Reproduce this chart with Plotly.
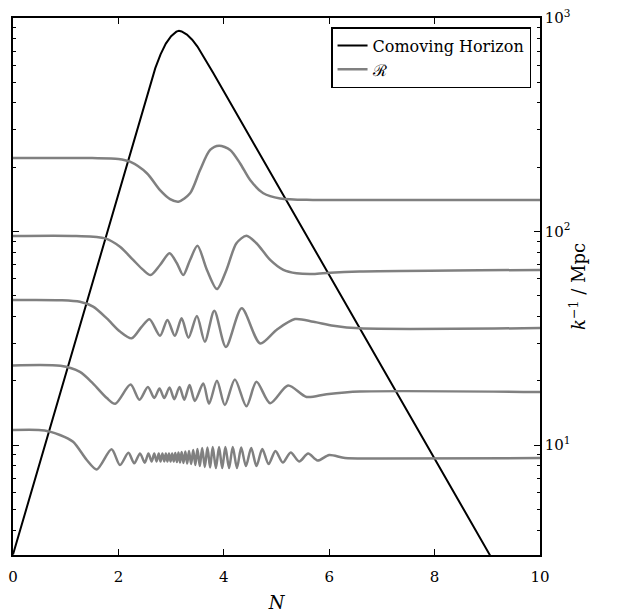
import plotly.graph_objects as go

# e-folds N and comoving horizon (Mpc)
horizon_N = [0, 2.6, 2.7, 2.8, 2.9, 3.0, 3.1, 3.15, 3.2, 3.3, 3.4, 3.5, 3.6, 3.7, 3.8, 9.05, 10]
horizon_k = [3.07, 483, 582, 676, 759, 822, 863, 872, 865, 836, 791, 735, 670, 610, 553, 3.05, 1.19]

# curvature perturbation R for five modes, drawn at the scale of each mode (Mpc)
r1_N = [0, 1.5, 2.0, 2.22, 2.54, 2.79, 2.98, 3.14, 3.36, 3.55, 3.74, 3.91, 4.12, 4.31,
        4.50, 4.75, 5.07, 5.69, 7.0, 10]
r1_k = [220.8, 220.8, 218.8, 212.3, 187.5, 156.3, 141.9, 138.0, 151.0, 194.1, 241.0, 252.4,
        241.0, 208.4, 174.2, 151.0, 142.9, 140.6, 140.6, 140.6]

r2_N = [0, 1.2, 1.75, 2.03, 2.28, 2.47, 2.61, 2.79, 2.97, 3.11, 3.23, 3.36, 3.50, 3.68, 3.87,
        4.05, 4.24, 4.43, 4.62, 4.88, 5.13, 5.38, 5.70, 6.02, 6.58, 10]
r2_k = [95.3, 95.3, 92.9, 84.9, 73.6, 66.1, 62.5, 69.7, 79.1, 71.0, 62.5, 73.6, 85.7, 66.1, 53.8,
        66.1, 88.1, 95.5, 88.1, 73.6, 66.1, 63.7, 63.2, 64.1, 64.9, 66.1]

r3_N = [0, 0.9, 1.27, 1.52, 1.78, 2.03, 2.25, 2.44, 2.59, 2.79, 2.93, 3.07, 3.20, 3.33, 3.49,
        3.64, 3.82, 4.04, 4.34, 4.69, 5.00, 5.35, 5.70, 6.08, 6.58, 10]
r3_k = [47.8, 47.7, 46.9, 44.5, 39.2, 34.0, 31.6, 35.8, 38.8, 32.5, 38.5, 32.5, 39.2, 31.8, 40.2,
        30.5, 42.6, 28.8, 43.7, 29.9, 34.6, 38.9, 37.8, 36.2, 35.2, 35.3]

r4_N = [0, 0.9, 1.27, 1.52, 1.78, 1.94, 2.23, 2.40, 2.56, 2.68, 2.78, 2.87, 2.97, 3.06, 3.16,
        3.25, 3.35, 3.45, 3.61, 3.72, 3.87, 4.02, 4.21, 4.43, 4.62, 4.88, 5.22, 5.57, 5.95,
        6.58, 10]
r4_k = [23.6, 23.5, 22.0, 19.4, 16.6, 15.6, 19.2, 16.3, 18.7, 16.6, 18.4, 16.6, 18.6, 16.4, 18.7,
        16.3, 19.1, 16.1, 19.4, 15.6, 20.0, 15.4, 20.3, 15.2, 19.8, 15.7, 19.0, 16.8, 17.3,
        17.8, 17.7]

r5_N = [0, 0.6, 0.89, 1.14, 1.40, 1.59, 1.87, 2.03, 2.19, 2.30, 2.41, 2.50,
        2.57, 2.63, 2.68, 2.725, 2.765, 2.80, 2.835, 2.87, 2.90, 2.93, 2.96, 2.99, 3.02, 3.05,
        3.08, 3.11, 3.14, 3.17, 3.20, 3.235, 3.27, 3.305, 3.34, 3.38, 3.42, 3.46, 3.50, 3.545,
        3.59, 3.64, 3.69, 3.74, 3.79, 3.85, 3.91, 3.97, 4.03, 4.10, 4.17, 4.25, 4.33, 4.42,
        4.52, 4.62, 4.73, 4.85, 4.98, 5.12, 5.27, 5.43, 5.60, 5.78, 6.0, 6.3, 7.0, 10]
r5_k = [11.75, 11.7, 11.14, 10.36, 8.51, 7.69, 9.55, 8.06, 9.20, 8.21, 9.14, 8.26,
        9.12, 8.37, 9.12, 8.37, 9.12, 8.37, 9.12, 8.37, 9.12, 8.37, 9.12, 8.37, 9.12, 8.37,
        9.17, 8.32, 9.23, 8.28, 9.27, 8.24, 9.33, 8.19, 9.38, 8.14, 9.48, 8.06, 9.58, 7.97,
        9.68, 7.89, 9.73, 7.85, 9.79, 7.80, 9.79, 7.80, 9.79, 7.80, 9.79, 7.80, 9.73, 7.97,
        9.68, 7.97, 9.58, 8.14, 9.38, 8.28, 9.23, 8.37, 9.12, 8.46, 8.98, 8.69, 8.65, 8.69]

modes = [(r1_N, r1_k), (r2_N, r2_k), (r3_N, r3_k), (r4_N, r4_k), (r5_N, r5_k)]

x_ticks = [0, 2, 4, 6, 8, 10]
y_ticks = [10, 100, 1000]
y_ticktext = ["10<sup>1</sup>", "10<sup>2</sup>", "10<sup>3</sup>"]
y_minor = [4, 5, 6, 7, 8, 9, 20, 30, 40, 50, 60, 70, 80, 90,
           200, 300, 400, 500, 600, 700, 800, 900]

FONT = "DejaVu Serif"
GRAY = "#808080"

fig = go.Figure()

fig.add_trace(go.Scatter(
    x=horizon_N, y=horizon_k, mode="lines", name="Comoving Horizon",
    line=dict(color="black", width=2),
))

for i, (n, k) in enumerate(modes):
    fig.add_trace(go.Scatter(
        x=n, y=k, mode="lines", name="ℛ",
        showlegend=(i == 0),
        line=dict(color=GRAY, width=2.5, shape="spline", smoothing=0.8),
    ))

fig.update_layout(
    width=620, height=614,
    margin=dict(l=13, r=80, t=18, b=59),
    paper_bgcolor="white", plot_bgcolor="white",
    font=dict(family=FONT, size=15, color="black"),
    showlegend=True,
    legend=dict(
        x=0.983, y=0.983, xanchor="right", yanchor="top",
        bgcolor="white", bordercolor="black", borderwidth=1.5,
        font=dict(family=FONT, size=16),
        tracegroupgap=0, itemwidth=30,
    ),
)

fig.update_xaxes(
    range=[0, 10], tickmode="array", tickvals=x_ticks,
    ticks="inside", ticklen=6, tickwidth=1, tickcolor="black",
    ticklabelstandoff=7, automargin=False,
    showline=True, linecolor="black", linewidth=1.5, mirror="ticks",
    showgrid=False, zeroline=False,
    title=dict(text="<i>N</i>", font=dict(size=18), standoff=12),
    tickfont=dict(size=15),
)

fig.update_yaxes(
    type="log", range=[0.485, 3.0], side="right", automargin=False,
    tickmode="array", tickvals=y_ticks, ticktext=y_ticktext,
    ticks="inside", ticklen=6, tickwidth=1, tickcolor="black",
    minor=dict(ticks="inside", ticklen=3, tickcolor="black", tickmode="array",
               tickvals=y_minor, showgrid=False),
    showline=True, linecolor="black", linewidth=1.5, mirror="ticks",
    showgrid=False, zeroline=False,
    title=dict(text="<i>k</i><sup>−1</sup> / Mpc", font=dict(size=18), standoff=3),
    tickfont=dict(size=15),
)

fig.write_html("out.html")
